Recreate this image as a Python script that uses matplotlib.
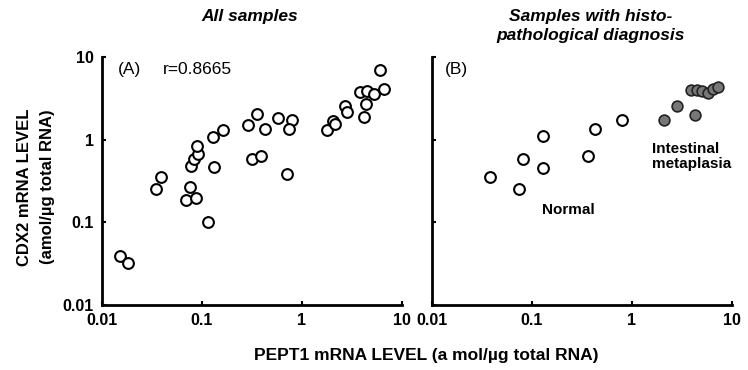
import matplotlib
matplotlib.use('Agg')
import matplotlib.pyplot as plt
from matplotlib.ticker import FixedLocator, FixedFormatter, NullLocator

plt.rcParams['font.family'] = ['Liberation Sans', 'DejaVu Sans']
plt.rcParams['font.weight'] = 'bold'

# panel A: all samples (PEPT1, CDX2)
all_pept1 = [0.0151, 0.018, 0.0347, 0.0386, 0.0697, 0.0765, 0.087, 0.0776,
             0.0824, 0.0922, 0.0891, 0.114, 0.132, 0.128, 0.163, 0.29, 0.314,
             0.352, 0.427, 0.386, 0.58, 0.789, 0.746, 0.703, 1.79, 2.03, 2.15,
             2.67, 2.84, 3.8, 4.43, 5.25, 6.56, 6.03, 4.37, 4.17]
all_cdx2 = [0.039, 0.032, 0.252, 0.353, 0.184, 0.266, 0.198, 0.486,
            0.589, 0.663, 0.826, 0.102, 0.468, 1.08, 1.29, 1.51, 0.583,
            2.02, 1.33, 0.628, 1.81, 1.75, 1.33, 0.386, 1.30, 1.68, 1.56,
            2.52, 2.15, 3.8, 3.9, 3.6, 4.08, 7.0, 2.71, 1.89]

# panel B: histopathological diagnosis
normal_pept1 = [0.038, 0.074, 0.082, 0.13, 0.13, 0.366, 0.427, 0.789]
normal_cdx2 = [0.35, 0.25, 0.586, 1.10, 0.456, 0.638, 1.36, 1.72]
im_pept1 = [2.07, 2.8, 4.27, 3.89, 4.43, 4.97, 5.71, 6.5, 7.19]
im_cdx2 = [1.72, 2.55, 1.98, 4.0, 4.0, 3.85, 3.7, 4.07, 4.35]

ticks = [0.01, 0.1, 1, 10]
tick_labels = ['0.01', '0.1', '1', '10']

fig = plt.figure(figsize=(7.48, 3.7), dpi=100)
axA = fig.add_axes([0.1364, 0.176, 0.401, 0.670])
axB = fig.add_axes([0.5775, 0.176, 0.401, 0.670])


def style(ax, ylabels):
    ax.set_xscale('log')
    ax.set_yscale('log')
    ax.set_xlim(0.01, 10)
    ax.set_ylim(0.01, 10)
    for s in ['top', 'right']:
        ax.spines[s].set_visible(False)
    for s in ['left', 'bottom']:
        ax.spines[s].set_linewidth(2)
    ax.xaxis.set_major_locator(FixedLocator(ticks))
    ax.xaxis.set_major_formatter(FixedFormatter(tick_labels))
    ax.xaxis.set_minor_locator(NullLocator())
    ax.yaxis.set_major_locator(FixedLocator(ticks))
    ax.yaxis.set_minor_locator(NullLocator())
    if ylabels:
        ax.yaxis.set_major_formatter(FixedFormatter(tick_labels))
    else:
        ax.set_yticklabels([])
    ax.tick_params(direction='in', length=3, width=1.5, labelsize=11.5, pad=6)
    for lab in ax.get_xticklabels() + ax.get_yticklabels():
        lab.set_fontweight('bold')


style(axA, True)
style(axB, False)

axA.scatter(all_pept1, all_cdx2, s=60, facecolors='white', edgecolors='black',
            linewidths=1.5, zorder=3)
axB.scatter(normal_pept1, normal_cdx2, s=60, facecolors='white',
            edgecolors='black', linewidths=1.5, zorder=3)
axB.scatter(im_pept1, im_cdx2, s=60, facecolors='#777777',
            edgecolors='#222222', linewidths=1.2, zorder=3)

axA.text(0.0145, 7.0, '(A)', fontsize=12.5, fontweight='normal', va='center')
axA.text(0.041, 7.0, 'r=0.8665', fontsize=12.5, fontweight='normal', va='center')
axB.text(0.0135, 7.0, '(B)', fontsize=12.5, fontweight='normal', va='center')
axB.text(0.23, 0.14, 'Normal', fontsize=11, fontweight='bold', ha='center',
         va='center')
axB.text(1.6, 0.62, 'Intestinal\nmetaplasia', fontsize=11, fontweight='bold',
         ha='left', va='center', linespacing=1.05)

fig.text(0.334, 0.955, 'All samples', fontsize=12.5, fontweight='bold',
         style='italic', ha='center', va='center')
fig.text(0.79, 0.93, 'Samples with histo-\npathological diagnosis', fontsize=12.5,
         fontweight='bold', style='italic', ha='center', va='center',
         linespacing=1.4)

fig.text(0.033, 0.495, 'CDX2 mRNA LEVEL', rotation=90, fontsize=12,
         fontweight='bold', ha='center', va='center')
fig.text(0.064, 0.495, '(amol/µg total RNA)', rotation=90, fontsize=12,
         fontweight='bold', ha='center', va='center')
fig.text(0.57, 0.04, 'PEPT1 mRNA LEVEL (a mol/µg total RNA)', fontsize=12.5,
         fontweight='bold', ha='center', va='center')

fig.savefig('out.png', dpi=100)
